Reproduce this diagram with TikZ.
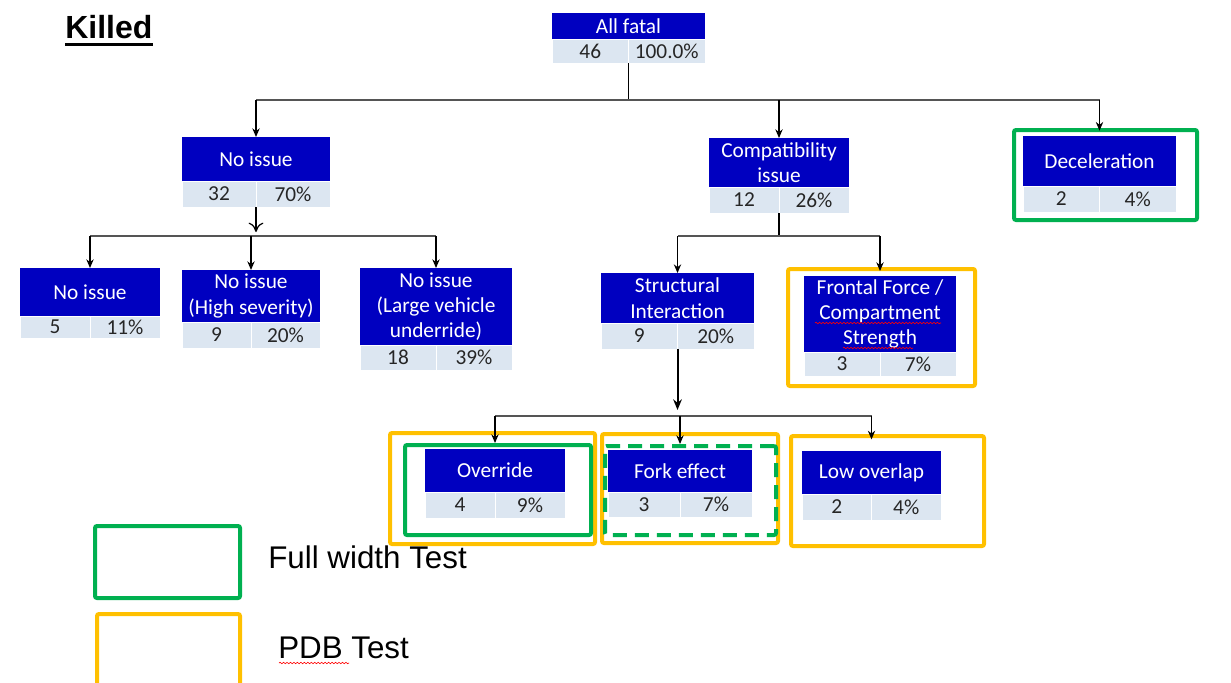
\documentclass[tikz,border=0pt]{standalone}
\usepackage{fontspec}
\setmainfont{Carlito}
\newfontfamily\arialfont{Liberation Sans}
\usetikzlibrary{arrows.meta,decorations.pathmorphing}

\definecolor{hdrblue}{RGB}{0,0,192}
\definecolor{cellgray}{RGB}{220,230,241}
\definecolor{frgreen}{RGB}{0,176,80}
\definecolor{frorange}{RGB}{255,192,0}
\definecolor{barline}{RGB}{85,85,85}

\def\px{0.75pt}

\tikzset{
  hdr/.style={fill=hdrblue, text=white, anchor=north west, inner sep=0pt, outer sep=0pt,
              align=center, font=\fontsize{16}{19}\selectfont},
  cell/.style={fill=cellgray, draw=white, line width=0.75pt, anchor=north west,
               inner sep=0pt, outer sep=0pt, text=black!85, font=\fontsize{16}{18}\selectfont},
  gframe/.style={draw=frgreen, line width=3pt, rounded corners=1.5pt, inner sep=0pt, anchor=north west},
  gdash/.style={gframe, dash pattern=on 10.5pt off 6pt},
  oframe/.style={draw=frorange, line width=3pt, rounded corners=1.5pt, inner sep=0pt, anchor=north west},
  link/.style={draw=black, line width=0.9pt},
  bar/.style={draw=barline, line width=1.3pt},
  arr/.style={link, -{Stealth[length=6.5pt,width=5.5pt]}},
  openarr/.style={link, -{To[length=7pt,width=11pt]}},
  thickarr/.style={draw=black, line width=1.5pt, -{Stealth[length=8pt,width=6.5pt]}},
  legendtext/.style={font=\arialfont\fontsize{23.5}{26}\selectfont, anchor=west, inner sep=0pt},
  squiggle/.style={draw=red, line width=0.45pt,
                   decorate, decoration={snake, amplitude=0.55pt, segment length=2.6pt}}
}

% #1 name, #2 left, #3 top, #4 width, #5 title height, #6 row height, #7 title, #8 count, #9 share
\newcommand\statbox[9]{%
  \node[hdr, minimum width={#4*\px}, minimum height={#5*\px}] (#1) at ({#2},{#3}) {#7};
  \node[cell, minimum width={#4/2*\px}, minimum height={#6*\px}] (#1-n) at ({#2},{#3+#5}) {#8};
  \node[cell, minimum width={#4/2*\px}, minimum height={#6*\px}] (#1-p) at ({#2+#4/2},{#3+#5}) {#9};
}

% #1 style, #2 name, #3 left, #4 top, #5 right, #6 bottom
\newcommand\frameat[6]{%
  \node[#1, minimum width={(#5-#3)*\px}, minimum height={(#6-#4)*\px}] (#2) at ({#3},{#4}) {};
}

\begin{document}
\begin{tikzpicture}[x=0.75pt, y=-0.75pt]
  \useasboundingbox (0,0) rectangle (1231,682);
  \clip (0,0) rectangle (1231,682);

  % title
  \node[font=\arialfont\bfseries\fontsize{24}{28}\selectfont, anchor=base west, inner sep=0pt]
       (killed) at (65,38) {Killed};
  \draw[line width=2.2pt] ([yshift=-4.6pt]killed.base west) -- ([yshift=-4.6pt]killed.base east);

  % tree boxes
  \statbox{fatal}{552}{13}{153}{26}{24}{All fatal}{46}{100.0\%}
  \statbox{noiss}{182}{137}{148}{44}{26}{No issue}{32}{70\%}
  \statbox{compat}{709}{138}{140}{49}{26}{Compatibility\\issue}{12}{26\%}
  \statbox{decel}{1023}{136}{153}{50}{26}{Deceleration}{2}{4\%}
  \statbox{nia}{20}{268}{140}{48}{22}{No issue}{5}{11\%}
  \statbox{nib}{182}{270}{138}{52}{26}{No issue\\(High severity)}{9}{20\%}
  \statbox{nic}{360}{268}{152}{77}{25}{No issue\\(Large vehicle\\underride)}{18}{39\%}
  \statbox{struct}{601}{273}{153}{50}{26}{Structural\\Interaction}{9}{20\%}
  \statbox{frontal}{804}{276}{152}{76}{24}{Frontal Force /\\Compartment\\Strength}{3}{7\%}
  \statbox{ovr}{425}{449}{140}{43}{26}{Override}{4}{9\%}
  \statbox{fork}{608}{450}{144}{42}{25}{Fork effect}{3}{7\%}
  \statbox{low}{802}{451}{139}{43}{26}{Low overlap}{2}{4\%}

  % test frames
  \frameat{gframe}{decel-g}{1012}{128}{1195}{218}
  \frameat{oframe}{frontal-o}{786}{267}{973}{384}
  \frameat{oframe}{ovr-o}{388}{431}{593}{542}
  \frameat{gframe}{ovr-g}{403}{443}{589}{533}
  \frameat{oframe}{fork-o}{600}{432}{776}{541}
  \frameat{gdash}{fork-g}{603}{444}{774}{533}
  \frameat{oframe}{low-o}{789}{434}{982}{544}

  % spell-check marks
  \draw[squiggle] (815,323) -- (941,323);
  \draw[squiggle] (843,348) -- (913,348);

  % level 1 connectors
  \coordinate (j0) at (628.5,100);
  \draw[link] (fatal-p.south west) -- (j0);
  \draw[bar] (noiss.north |- j0) -- (decel.north |- j0);
  \draw[arr] (noiss.north |- j0) -- (noiss.north);
  \draw[arr] (compat.north |- j0) -- (compat.north);
  \draw[arr] (decel.north |- j0) -- ([yshift=-2pt]decel-g.north -| decel.north);

  % level 2 connectors (no issue)
  \coordinate (j1) at (256,236);
  \draw[openarr] (noiss-p.south west) -- ([yshift=3pt]j1);
  \draw[bar] (nia.north |- j1) -- (nic.north |- j1);
  \draw[arr] (nia.north |- j1) -- (nia.north);
  \draw[arr] (nib.north |- j1) -- (nib.north);
  \draw[arr] (nic.north |- j1) -- (nic.north);

  % level 2 connectors (compatibility)
  \coordinate (j2) at (779,236);
  \draw[link] (compat-p.south west) -- (j2);
  \draw[bar] (struct.north |- j2) -- (frontal.north |- j2);
  \draw[arr] (struct.north |- j2) -- (struct.north);
  \draw[arr] (frontal.north |- j2) -- ([yshift=-3pt]frontal-o.north -| frontal.north);

  % level 3 connectors (structural interaction)
  \coordinate (j3) at (677.5,416);
  \draw[thickarr] (struct-p.south west) -- ([yshift=4.5pt]j3);
  \draw[bar] (ovr.north |- j3) -- (low.north |- j3);
  \draw[arr] (ovr.north |- j3) -- (ovr-g.north -| ovr.north);
  \draw[arr] (fork.north |- j3) -- (fork-g.north -| fork.north);
  \draw[arr] (low.north |- j3) -- ([yshift=-4pt]low-o.north -| low.north);

  % legend
  \frameat{gframe}{leg-g}{93}{524}{238}{596}
  \frameat{oframe}{leg-o}{95}{612}{238}{686}
  \node[legendtext] (lfull) at (268,557) {Full width Test};
  \node[legendtext] (lpdb) at (278,648) {PDB Test};
  \draw[squiggle] (279,663) -- (349,663);
\end{tikzpicture}
\end{document}
